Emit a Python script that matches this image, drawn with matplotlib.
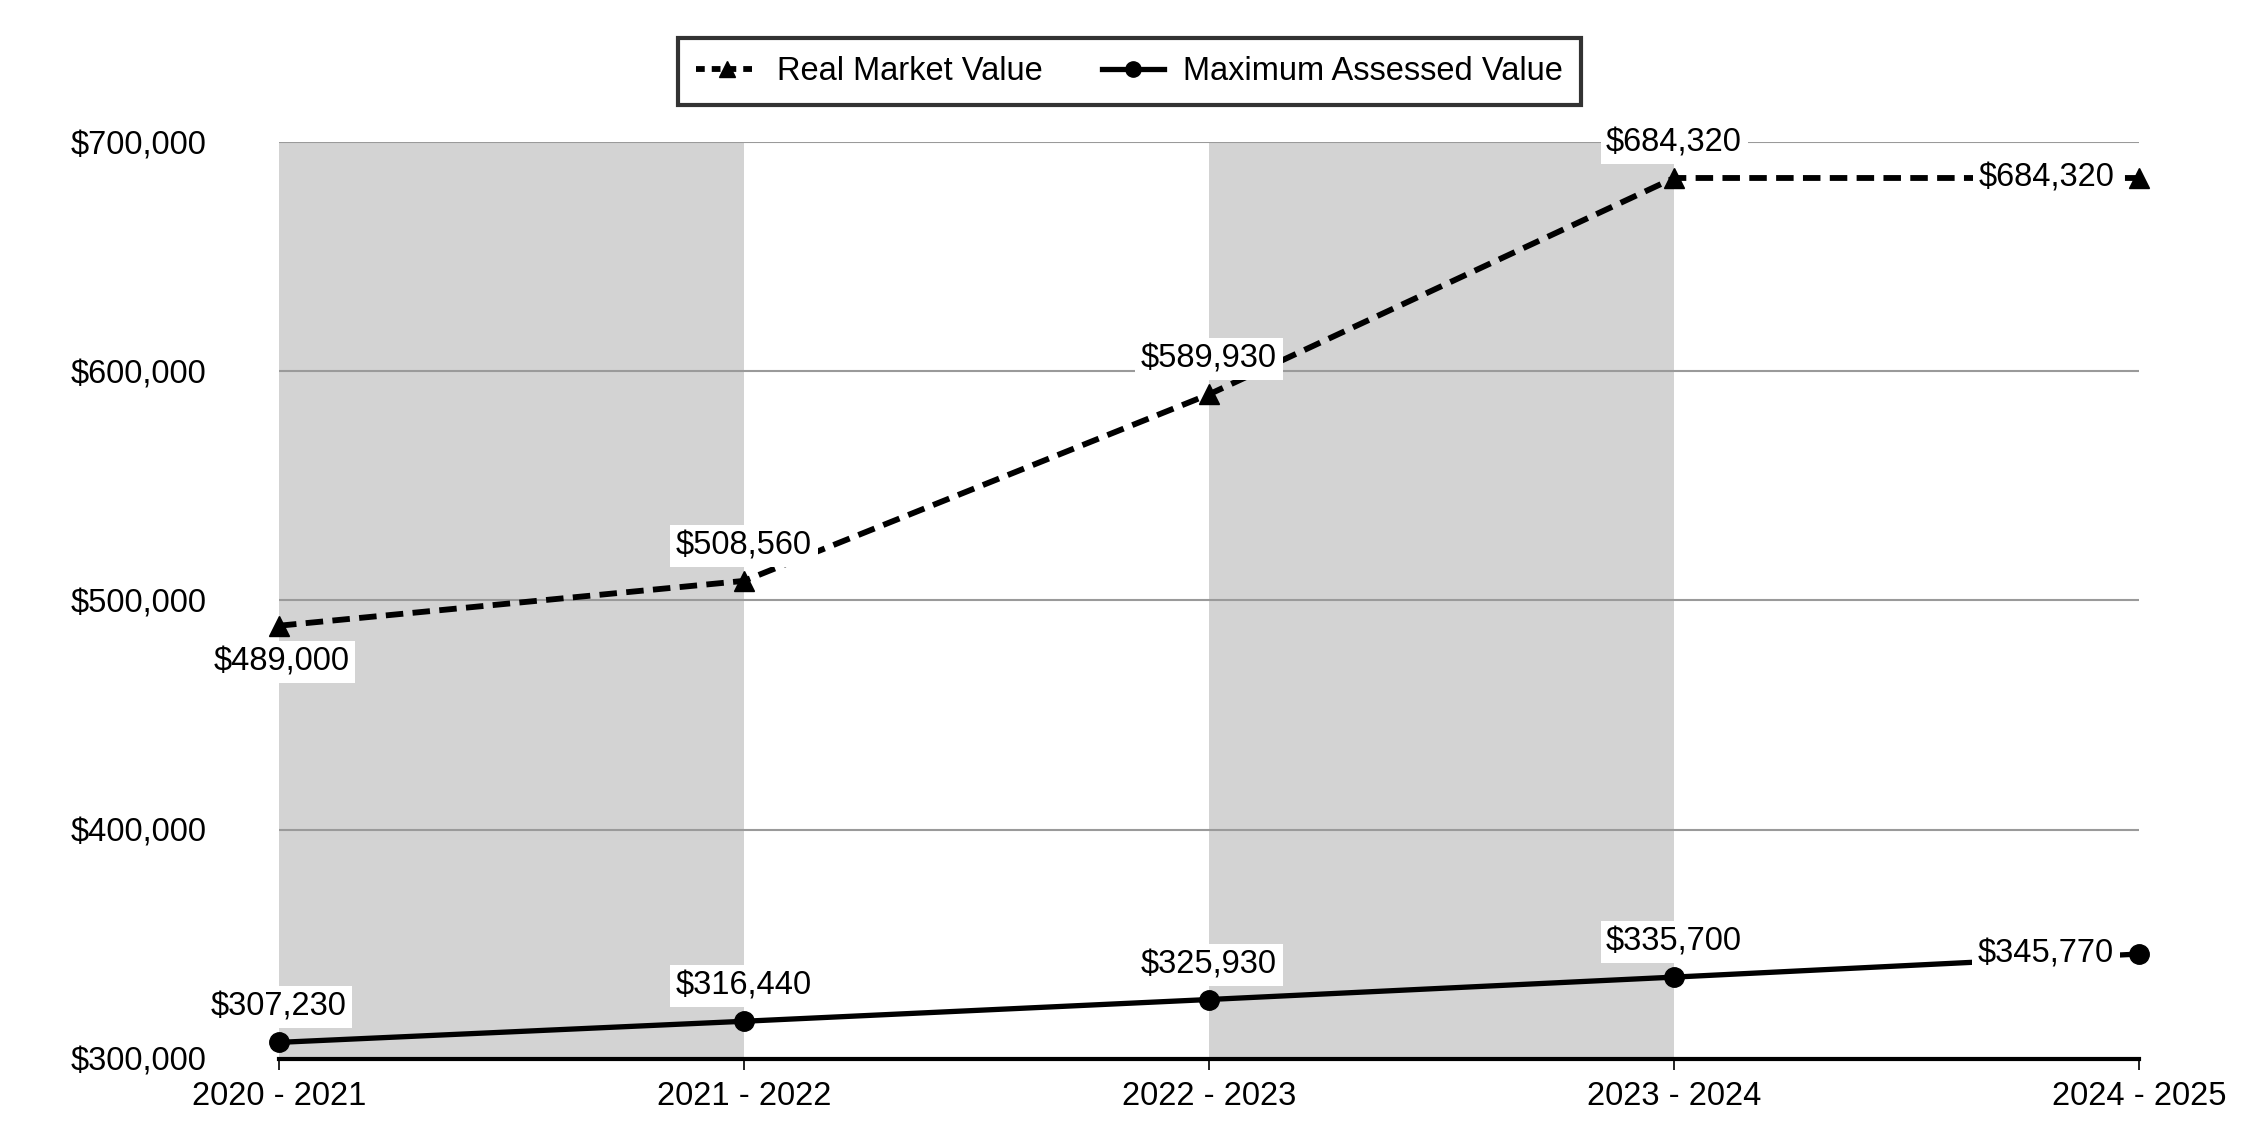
import matplotlib.pyplot as plt
from matplotlib.lines import Line2D

plt.rcParams["font.family"] = ["Liberation Sans", "DejaVu Sans"]

years = ["2020 - 2021", "2021 - 2022", "2022 - 2023", "2023 - 2024", "2024 - 2025"]
real_market = [489000, 508560, 589930, 684320, 684320]
max_assessed = [307230, 316440, 325930, 335700, 345770]
y_ticks = [300000, 400000, 500000, 600000, 700000]

# where each label goes relative to its point: "above", "below", "left"
rmv_pos = ["below", "above", "above", "above", "left"]
mav_pos = ["above", "above", "above", "above", "left"]

fig = plt.figure(figsize=(22.5, 11.4), dpi=100)
ax = fig.add_axes([0.124, 0.0711, 0.9507 - 0.124, 0.8754 - 0.0711])

x = list(range(len(years)))

# bandes grises
for i in range(0, len(years) - 1, 2):
    ax.axvspan(x[i], x[i + 1], color="#d3d3d3", zorder=0, lw=0)

for v in y_ticks[1:]:
    ax.axhline(v, color="#9a9a9a", lw=1.5, zorder=1)

ax.plot(x, real_market, color="black", lw=4.2, ls=(0, (3, 1.6)), marker="^",
        markersize=14, zorder=3, clip_on=False)
ax.plot(x, max_assessed, color="black", lw=3.8, marker="o",
        markersize=14, zorder=3, clip_on=False)

box = dict(facecolor="white", edgecolor="none", pad=4)


def put_labels(values, positions):
    for xi, v, p in zip(x, values, positions):
        txt = "${:,.0f}".format(v)
        if p == "above":
            ax.annotate(txt, (xi, v), xytext=(0, 14), textcoords="offset points",
                        ha="center", va="bottom", fontsize=23.5, bbox=box, zorder=4,
                        annotation_clip=False)
        elif p == "below":
            ax.annotate(txt, (xi, v), xytext=(2, -15), textcoords="offset points",
                        ha="center", va="top", fontsize=23.5, bbox=box, zorder=4,
                        annotation_clip=False)
        else:
            ax.annotate(txt, (xi, v), xytext=(-18, 0), textcoords="offset points",
                        ha="right", va="center", fontsize=23.5, bbox=box, zorder=4,
                        annotation_clip=False)


put_labels(real_market, rmv_pos)
put_labels(max_assessed, mav_pos)

ax.set_xlim(0, len(years) - 1)
ax.set_ylim(300000, 700000)
ax.set_xticks(x)
ax.set_xticklabels(years, fontsize=23.5)
ax.set_yticks(y_ticks)
ax.set_yticklabels(["${:,.0f}".format(v) for v in y_ticks], fontsize=23.5)
ax.tick_params(axis="y", length=0, pad=52)
ax.tick_params(axis="x", length=8, width=1.2, pad=8)

for s in ["top", "right", "left"]:
    ax.spines[s].set_visible(False)
ax.spines["bottom"].set_linewidth(3)
ax.spines["bottom"].set_zorder(5)

handles = [
    Line2D([], [], color="black", lw=4.2, ls=(0, (1.5, 1.2)), marker="^", markersize=11),
    Line2D([], [], color="black", lw=3.8, marker="o", markersize=11),
]
leg = fig.legend(handles, ["Real Market Value", "Maximum Assessed Value"],
                 loc="center", bbox_to_anchor=(0.502, 0.937), ncol=2, fontsize=23.5,
                 frameon=True, fancybox=False, handlelength=1.9, columnspacing=1.8,
                 borderpad=0.55, handletextpad=0.6)
leg.get_frame().set_edgecolor("black")
leg.get_frame().set_linewidth(3)

plt.savefig("out.png", dpi=100)
plt.close()
